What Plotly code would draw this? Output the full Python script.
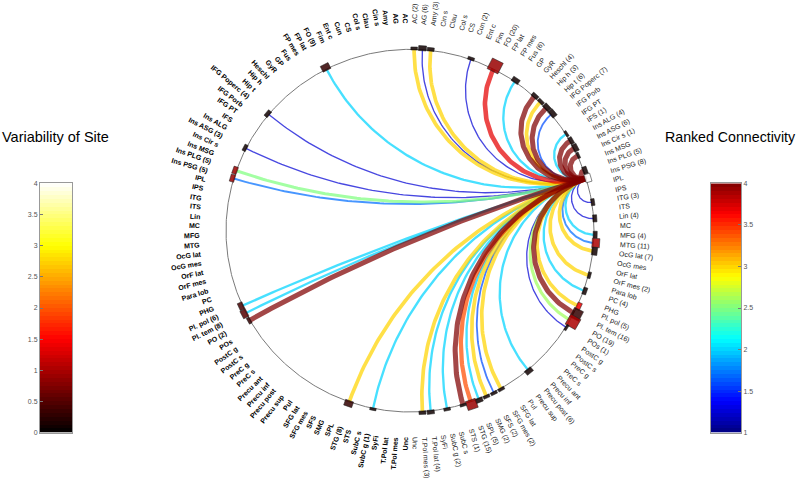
import numpy as np
import plotly.graph_objects as go

# ---------------- data ----------------
REGIONS = ["AC", "AG", "Amy", "Cin s", "Clau", "Col s", "CS", "Cun", "Ent c", "Fim",
           "FO", "FP lat", "FP mes", "Fus", "GP", "GyR", "Heschl", "Hip h", "Hip t", "IFG Poperc",
           "IFG Porb", "IFG PT", "IFS", "Ins ALG", "Ins ASG", "Ins Cir s", "Ins MSG", "Ins PLG", "Ins PSG", "IPL",
           "IPS", "ITG", "ITS", "Lin", "MC", "MFG", "MTG", "OcG lat", "OcG mes", "OrF lat",
           "OrF mes", "Para lob", "PC", "PHG", "Pl. pol", "Pl. tem", "PO", "POs", "PostC g", "PostC s",
           "PreC g", "PreC s", "Precu ant", "Precu inf", "Precu post", "Precu sup", "Pul", "SFG lat", "SFG mes", "SFS",
           "SMG", "SPL", "STG", "STS", "SubC s", "SubC g", "SyFi", "T.Pol lat", "T.Pol mes", "Unc"]

LEFT_SITES = {"FO": 9, "IFG Poperc": 4, "Ins ASG": 3, "Ins PLG": 5, "Ins PSG": 5,
              "Pl. pol": 6, "Pl. tem": 8, "PO": 2, "STG": 8, "SubC g": 1}
RIGHT_SITES = {"AC": 2, "AG": 6, "Amy": 3, "Cun": 2, "FO": 20, "Fus": 6, "Heschl": 4, "Hip h": 3,
               "Hip t": 6, "IFG Poperc": 7, "IFS": 1, "Ins ALG": 4, "Ins ASG": 6, "Ins Cir s": 1,
               "Ins PLG": 5, "Ins PSG": 8, "ITG": 3, "Lin": 4, "MFG": 4, "MTG": 11, "OcG lat": 7,
               "OrF mes": 2, "PC": 4, "Pl. pol": 5, "Pl. tem": 16, "PO": 19, "POs": 1, "Precu post": 6,
               "SFG mes": 2, "SFS": 2, "SMG": 2, "SPL": 5, "STG": 15, "STS": 1, "SubC g": 2,
               "T.Pol lat": 4, "T.Pol mes": 3}

LEFT_VAR = {"FO": 0.3, "IFG Poperc": 0.1, "Ins ASG": 0.1, "Ins PLG": 0.9, "Ins PSG": 0.9,
            "Pl. pol": 0.4, "Pl. tem": 0.5, "PO": 0.3, "STG": 0.3, "SubC g": 0.1}
RIGHT_VAR = {"FO": 0.9, "MTG": 1.0, "Pl. pol": 1.4, "Pl. tem": 0.3, "PO": 1.0, "STG": 0.9,
             "Ins PSG": 4.0}
DEFAULT_VAR = 0.1

SOURCE_HEMI = "R"
SOURCE_REGION = "Ins PSG"
TARGET_HEMI = ["R"] * 36 + ["L"] * 10
TARGET_REGION = ["AC", "AG", "Amy", "Cun", "FO", "Fus", "Heschl", "Hip h", "Hip t", "IFG Poperc",
                 "IFS", "Ins ALG", "Ins ASG", "Ins Cir s", "Ins PLG", "ITG", "Lin", "MFG", "MTG", "OcG lat",
                 "OrF mes", "PC", "Pl. pol", "Pl. tem", "PO", "POs", "Precu post", "SFG mes", "SFS", "SMG",
                 "SPL", "STG", "STS", "SubC g", "T.Pol lat", "T.Pol mes",
                 "FO", "IFG Poperc", "Ins ASG", "Ins PLG", "Ins PSG", "Pl. pol", "Pl. tem", "PO", "STG", "SubC g"]
TARGET_RANK = [3.0, 1.25, 3.0, 1.25, 3.7, 2.0, 4.0, 3.0, 4.0, 1.6,
               2.0, 4.0, 4.0, 4.0, 4.0, 1.25, 1.25, 2.0, 1.7, 3.0,
               3.0, 2.0, 3.0, 4.0, 2.6, 1.25, 2.0, 3.0, 1.6, 3.0,
               2.0, 3.4, 4.0, 2.0, 2.0, 3.0,
               2.0, 1.25, 1.25, 2.5, 1.7, 2.0, 2.0, 4.0, 3.0, 2.0]

VAR_TICKS = [0, 0.5, 1, 1.5, 2, 2.5, 3, 3.5, 4]
RANK_TICKS = [1, 1.5, 2, 2.5, 3, 3.5, 4]

# ---------------- styling / geometry ----------------
S = 184.0
CX, CY = 410.0, 230.0
W, H = 800, 484
FONT = "Liberation Sans, Arial, sans-serif"

HOT = [[0.0, (0, 0, 0)], [0.375, (255, 0, 0)], [0.75, (255, 255, 0)], [1.0, (255, 255, 255)]]
JET = [[0.0, (0, 0, 128)], [0.125, (0, 0, 255)], [0.375, (0, 255, 255)], [0.625, (255, 255, 0)],
       [0.875, (255, 0, 0)], [1.0, (128, 0, 0)]]


def cs_plotly(cs):
    return [[p, "rgb(%d,%d,%d)" % c] for p, c in cs]


def cs_color(cs, t, alpha=1.0):
    t = min(max(t, 0.0), 1.0)
    for (p0, c0), (p1, c1) in zip(cs[:-1], cs[1:]):
        if p0 <= t <= p1:
            f = 0 if p1 == p0 else (t - p0) / (p1 - p0)
            c = [c0[k] + f * (c1[k] - c0[k]) for k in range(3)]
            return "rgba(%d,%d,%d,%.2f)" % (c[0], c[1], c[2], alpha)
    return "rgba(0,0,0,1)"


N = len(REGIONS)
STEP = 360.0 / (2 * N)


def angle(hemi, region):
    i = REGIONS.index(region)
    phi = (i + 0.5) * STEP
    a = 90 - phi if hemi == "R" else 90 + phi
    return np.radians(a)


CW = {' ': .278, '(': .333, ')': .333, '.': .278, 'A': .667, 'C': .722, 'F': .611, 'G': .778,
      'H': .722, 'I': .278, 'L': .556, 'M': .833, 'O': .778, 'P': .667, 'R': .722, 'S': .667,
      'T': .611, 'U': .722, 'a': .556, 'b': .556, 'c': .5, 'd': .556, 'e': .556, 'f': .278,
      'g': .556, 'h': .556, 'i': .222, 'l': .222, 'm': .833, 'n': .556, 'o': .556, 'p': .556,
      'r': .333, 's': .5, 't': .278, 'u': .556, 'y': .5, 'x': .5, 'w': .722}


def text_w(s, size, bold):
    w = sum(CW.get(ch, 0.556) for ch in s) * size
    return w * (1.08 if bold else 1.0)


def arc(a1, a2, n=90):
    u = np.array([np.cos(a1), np.sin(a1)])
    v = np.array([np.cos(a2), np.sin(a2)])
    d = 1 + u @ v
    if abs(np.sin(a2 - a1)) < 1e-3 or abs(d) < 1e-6:
        t = np.linspace(0, 1, n)
        return u[0] + (v[0] - u[0]) * t, u[1] + (v[1] - u[1]) * t
    c = (u + v) / d
    r = np.sqrt(c @ c - 1)
    b1 = np.arctan2(u[1] - c[1], u[0] - c[0])
    b2 = np.arctan2(v[1] - c[1], v[0] - c[0])
    db = (b2 - b1 + np.pi) % (2 * np.pi) - np.pi
    t = np.linspace(0, 1, n)
    return c[0] + r * np.cos(b1 + db * t), c[1] + r * np.sin(b1 + db * t)


fig = go.Figure()

th = np.linspace(0, 2 * np.pi, 721)
fig.add_trace(go.Scatter(x=np.cos(th), y=np.sin(th), mode="lines",
                         line=dict(color="#7a7a7a", width=1), hoverinfo="skip", showlegend=False))

a_src = angle(SOURCE_HEMI, SOURCE_REGION)
order = np.argsort(TARGET_RANK, kind="stable")
for k in order:
    rank = TARGET_RANK[k]
    a_t = angle(TARGET_HEMI[k], TARGET_REGION[k])
    xs, ys = arc(a_src, a_t)
    col = cs_color(JET, (rank - 1) / 3.0, 0.72)
    fig.add_trace(go.Scatter(x=xs, y=ys, mode="lines", line=dict(color=col, width=1 + 1.35 * (rank - 1)),
                             hoverinfo="skip", showlegend=False))

for hemi, sites, var in (("L", LEFT_SITES, LEFT_VAR), ("R", RIGHT_SITES, RIGHT_VAR)):
    for reg, n in sites.items():
        a = angle(hemi, reg)
        wpx = 6 + 0.3 * n
        hpx = 2 + 0.5 * n
        rc = 1 + 0.3 * hpx / S
        e = np.array([np.cos(a), np.sin(a)])
        tv = np.array([-np.sin(a), np.cos(a)])
        c = rc * e
        hw, hh = wpx / 2 / S, hpx / 2 / S
        pts = [c + tv * hw + e * hh, c - tv * hw + e * hh, c - tv * hw - e * hh, c + tv * hw - e * hh,
               c + tv * hw + e * hh]
        v = var.get(reg, DEFAULT_VAR)
        fig.add_trace(go.Scatter(x=[p[0] for p in pts], y=[p[1] for p in pts], mode="lines",
                                 fill="toself", fillcolor=cs_color(HOT, v / 4.0, 0.85),
                                 line=dict(color="rgba(30,30,30,0.9)", width=0.6),
                                 hoverinfo="skip", showlegend=False))

annotations = []
RL = 210.0
FS = 7
for hemi in ("L", "R"):
    sites = LEFT_SITES if hemi == "L" else RIGHT_SITES
    for i, reg in enumerate(REGIONS):
        txt = reg + (" (%d)" % sites[reg] if reg in sites else "")
        bold = hemi == "L"
        phi = (i + 0.5) * STEP
        a = angle(hemi, reg)
        w = text_w(txt, FS, bold)
        rr = (RL + w / 2) / S
        tang = (90 - phi) if hemi == "L" else (phi - 90)
        annotations.append(dict(x=rr * np.cos(a), y=rr * np.sin(a), xref="x", yref="y", text=txt,
                                showarrow=False, xanchor="center", yanchor="middle", textangle=tang,
                                font=dict(family=FONT, size=FS, color="#000" if bold else "#222",
                                          weight="bold" if bold else "normal")))

nb = 64
vy = [(k + 0.5) * 4.0 / nb for k in range(nb)]
fig.add_trace(go.Heatmap(x=[0], y=vy, z=[[v] for v in vy], colorscale=cs_plotly(HOT), zmin=0, zmax=4,
                         showscale=False, xaxis="x2", yaxis="y2", hoverinfo="skip"))
ry = [1 + (k + 0.5) * 3.0 / nb for k in range(nb)]
fig.add_trace(go.Heatmap(x=[0], y=ry, z=[[v] for v in ry], colorscale=cs_plotly(JET), zmin=1, zmax=4,
                         showscale=False, xaxis="x3", yaxis="y3", hoverinfo="skip"))

annotations.append(dict(x=0.0, y=1 - 135 / H, xref="paper", yref="paper", text="Variability of Site",
                        showarrow=False, xanchor="left", yanchor="middle",
                        font=dict(family=FONT, size=14.5, color="#000")))
annotations.append(dict(x=798 / W, y=1 - 135 / H, xref="paper", yref="paper", text="Ranked Connectivity",
                        showarrow=False, xanchor="right", yanchor="middle",
                        font=dict(family=FONT, size=14.2, color="#000")))

cb_dom_y = [1 - 435 / H, 1 - 182 / H]
tick_font = dict(family=FONT, size=7, color="#555")
fig.update_layout(
    width=W, height=H, margin=dict(l=0, r=0, t=0, b=0),
    paper_bgcolor="white", plot_bgcolor="rgba(0,0,0,0)",
    xaxis=dict(range=[-CX / S, (W - CX) / S], visible=False, domain=[0, 1]),
    yaxis=dict(range=[-(H - CY) / S, CY / S], visible=False, domain=[0, 1]),
    xaxis2=dict(domain=[40 / W, 72 / W], anchor="y2", showticklabels=False, ticks="",
                showline=True, mirror=True, linecolor="#999", linewidth=1, showgrid=False, zeroline=False),
    yaxis2=dict(domain=cb_dom_y, anchor="x2", range=[0, 4], tickvals=VAR_TICKS,
                ticktext=["%g" % t for t in VAR_TICKS], ticks="inside", ticklen=3, tickcolor="#777",
                side="left", tickfont=tick_font, showline=True, mirror=True, linecolor="#999",
                linewidth=1, showgrid=False, zeroline=False),
    xaxis3=dict(domain=[711 / W, 741 / W], anchor="y3", showticklabels=False, ticks="",
                showline=True, mirror=True, linecolor="#999", linewidth=1, showgrid=False, zeroline=False),
    yaxis3=dict(domain=cb_dom_y, anchor="x3", range=[1, 4], tickvals=RANK_TICKS,
                ticktext=["%g" % t for t in RANK_TICKS], ticks="inside", ticklen=3, tickcolor="#777",
                side="right", tickfont=tick_font, showline=True, mirror=True, linecolor="#999",
                linewidth=1, showgrid=False, zeroline=False),
    annotations=annotations,
    showlegend=False,
)

fig.write_html("out.html", config={"displayModeBar": False},
               post_script="document.body.style.margin='0px';")
